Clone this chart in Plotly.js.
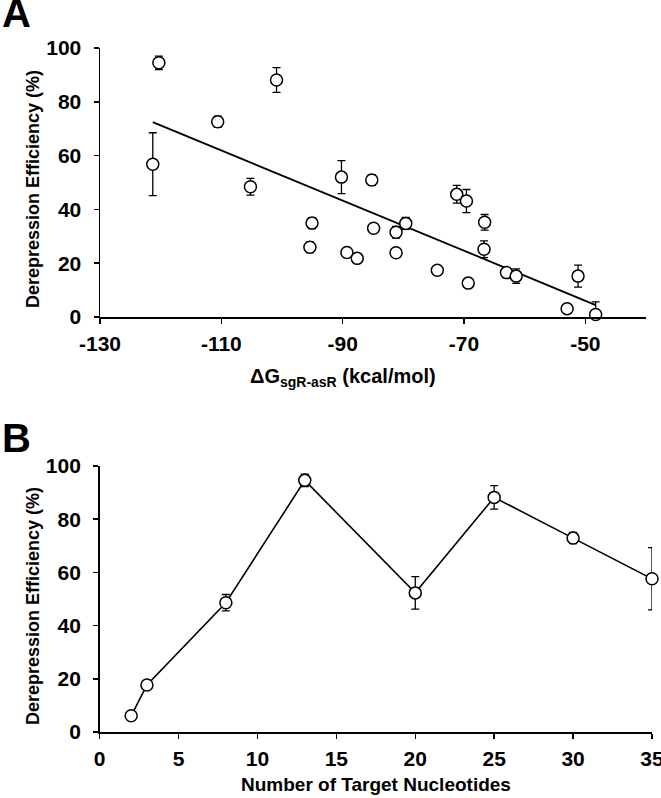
<!DOCTYPE html>
<html>
<head>
<meta charset="utf-8">
<script src="https://cdn.plot.ly/plotly-3.0.1.min.js"></script>
<style>
  html, body { margin: 0; padding: 0; background: #fff; }
  #chart { width: 661px; height: 798px; }
</style>
</head>
<body>
<div id="chart"></div>
<script>
// ---------- Panel A data: ΔG vs derepression efficiency ----------
const dgValues = [-120.3, -121.3, -110.6, -100.9, -105.2, -95.05, -95.4, -90.2, -89.3, -87.6,
                  -85.2, -84.9, -81.2, -79.6, -81.2, -74.4, -71.2, -69.6, -69.3, -66.6,
                  -66.7, -63.0, -61.4, -51.2, -53.0, -48.3];
const effA     = [94.5, 56.8, 72.6, 88.1, 48.4, 34.9, 25.9, 52.0, 24.0, 21.8,
                  50.9, 33.0, 31.5, 34.8, 23.9, 17.4, 45.6, 43.1, 12.6, 35.2,
                  25.2, 16.5, 15.2, 15.2, 3.1, 0.9];
const errA     = [2.5, 11.7, 2.1, 4.6, 3.1, 2.0, 2.0, 6.1, 0, 0,
                  2.0, 0, 2.2, 2.2, 0, 0, 3.3, 4.3, 0, 2.9,
                  3.1, 1.5, 2.7, 4.1, 0, 4.7];
const errAminus= [2.5, 11.7, 2.1, 4.6, 3.1, 2.0, 2.0, 6.1, 0, 0,
                  2.0, 0, 2.2, 2.2, 0, 0, 3.3, 4.3, 0, 2.9,
                  3.1, 1.5, 2.7, 4.1, 0, 0.9];

// ---------- Panel B data: number of target nucleotides ----------
const nucleotides = [2, 3, 8, 13, 20, 25, 30, 35];
const effB        = [6.1, 17.7, 48.6, 94.6, 52.3, 88.2, 72.9, 57.6];
const errB        = [1.0, 1.2, 3.1, 2.3, 6.1, 4.4, 2.1, 11.7];

// tick values
const xTicksA = [-130, -110, -90, -70, -50];
const yTicks  = [0, 20, 40, 60, 80, 100];
const xTicksB = [0, 5, 10, 15, 20, 25, 30, 35];

// least-squares trendline for panel A
function linfit(xs, ys) {
  const n = xs.length;
  let sx = 0, sy = 0, sxx = 0, sxy = 0;
  for (let i = 0; i < n; i++) { sx += xs[i]; sy += ys[i]; sxx += xs[i]*xs[i]; sxy += xs[i]*ys[i]; }
  const m = (n*sxy - sx*sy) / (n*sxx - sx*sx);
  const b = (sy - m*sx) / n;
  return [m, b];
}
const [slope, icpt] = linfit(dgValues, effA);
const xMin = Math.min(...dgValues), xMax = Math.max(...dgValues);
const trendX = [xMin, xMax];
const trendY = trendX.map(x => slope*x + icpt);

const W = 661, H = 798;
const px = x => x / W;
const py = y => 1 - y / H;
const bold = v => '<b>' + v + '</b>';

const FONT = 'Liberation Sans, Arial, Helvetica, sans-serif';
const TICKSIZE = 21;
const marker = { symbol: 'circle', size: 12, color: '#ffffff', line: { color: '#000', width: 1.5 } };
const errStyle = { color: '#000', thickness: 1.3, width: 4 };

const traces = [
  { x: trendX, y: trendY, mode: 'lines', line: { color: '#000', width: 1.8 },
    xaxis: 'x', yaxis: 'y', hoverinfo: 'skip', showlegend: false },
  { x: dgValues, y: effA, mode: 'markers', marker: marker, cliponaxis: false,
    error_y: Object.assign({ type: 'data', array: errA, arrayminus: errAminus, symmetric: false, visible: true }, errStyle),
    xaxis: 'x', yaxis: 'y', showlegend: false },
  { x: nucleotides, y: effB, mode: 'lines+markers', marker: marker, cliponaxis: false,
    line: { color: '#000', width: 1.6 },
    error_y: Object.assign({ type: 'data', array: errB, visible: true }, errStyle),
    xaxis: 'x2', yaxis: 'y2', showlegend: false }
];

function axis(extra) {
  return Object.assign({
    showgrid: false, zeroline: false, showline: true, linecolor: '#000', linewidth: 1.5,
    ticks: 'outside', ticklen: 5, tickwidth: 1.5, tickcolor: '#000',
    tickfont: { family: FONT, size: TICKSIZE, color: '#000', weight: 'bold' },
    ticklabeloverflow: 'allow',
    fixedrange: true
  }, extra);
}

const layout = {
  width: W, height: H,
  margin: { l: 0, r: 0, t: 0, b: 0 },
  paper_bgcolor: '#fff', plot_bgcolor: '#fff',
  font: { family: FONT, color: '#000' },
  showlegend: false,
  xaxis: axis({
    domain: [px(100), px(646)], range: [-130, -40], anchor: 'y',
    tickmode: 'array', tickvals: xTicksA, ticktext: xTicksA.map(bold), ticklabelstandoff: 2
  }),
  yaxis: axis({
    domain: [py(317), py(48)], range: [0, 100], anchor: 'x',
    tickmode: 'array', tickvals: yTicks, ticktext: yTicks.map(bold), ticklabelstandoff: 8
  }),
  xaxis2: axis({
    domain: [px(99.6), px(652)], range: [0, 35], anchor: 'y2',
    tickmode: 'array', tickvals: xTicksB, ticktext: xTicksB.map(bold), ticklabelstandoff: 2
  }),
  yaxis2: axis({
    domain: [py(732), py(466)], range: [0, 100], anchor: 'x2',
    tickmode: 'array', tickvals: yTicks, ticktext: yTicks.map(bold), ticklabelstandoff: 8
  }),
  annotations: [
    { text: '<b>A</b>', xref: 'paper', yref: 'paper', x: px(0), y: py(13), xanchor: 'left', yanchor: 'middle',
      showarrow: false, font: { family: FONT, size: 40, color: '#000' } },
    { text: '<b>B</b>', xref: 'paper', yref: 'paper', x: px(0), y: py(438), xanchor: 'left', yanchor: 'middle',
      showarrow: false, font: { family: FONT, size: 40, color: '#000' } },
    { text: '<b>Derepression Efficiency (%)</b>', xref: 'paper', yref: 'paper', x: px(33), y: py(189),
      xanchor: 'center', yanchor: 'middle', textangle: -90, showarrow: false,
      font: { family: FONT, size: 18, color: '#000' } },
    { text: '<b>Derepression Efficiency (%)</b>', xref: 'paper', yref: 'paper', x: px(33), y: py(606),
      xanchor: 'center', yanchor: 'middle', textangle: -90, showarrow: false,
      font: { family: FONT, size: 18, color: '#000' } },
    { text: '<b>ΔG<sub>sgR-asR</sub> (kcal/mol)</b>', xref: 'paper', yref: 'paper', x: px(343), y: py(378),
      xanchor: 'center', yanchor: 'middle', showarrow: false,
      font: { family: FONT, size: 20, color: '#000' } },
    { text: '<b>Number of Target Nucleotides</b>', xref: 'paper', yref: 'paper', x: px(376), y: py(784),
      xanchor: 'center', yanchor: 'middle', showarrow: false,
      font: { family: FONT, size: 19, color: '#000' } }
  ]
};

Plotly.newPlot('chart', traces, layout, { staticPlot: true, displayModeBar: false });
</script>
</body>
</html>
